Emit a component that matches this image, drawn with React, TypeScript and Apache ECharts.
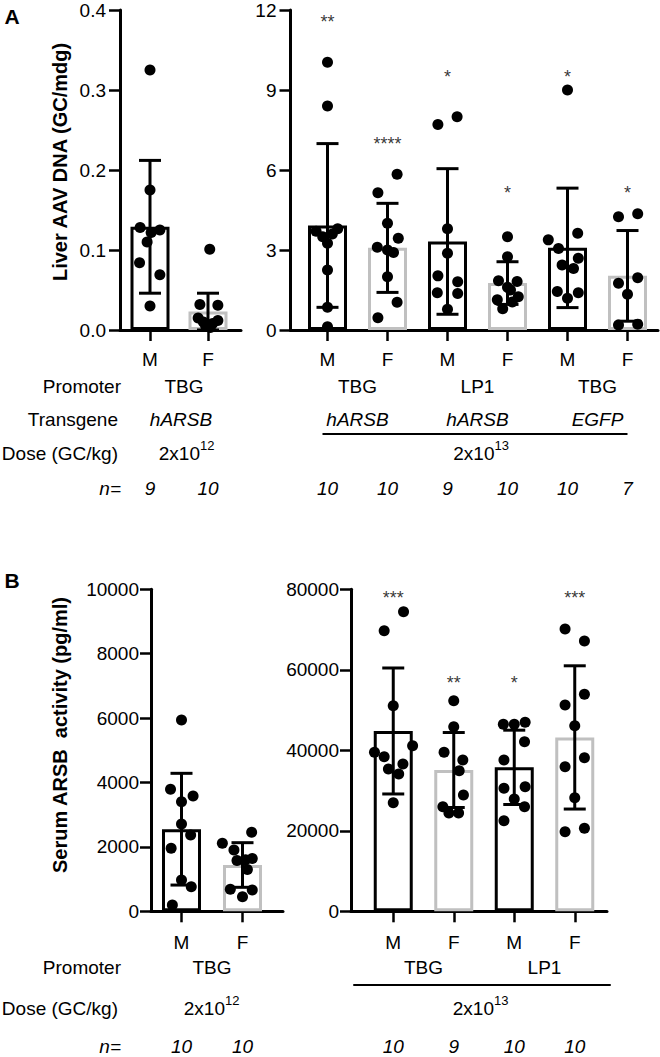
import React, { useEffect, useRef } from 'react';
import * as echarts from 'echarts';

const FONT = '"Liberation Sans", Arial, sans-serif';
const GRAY = '#c0c0c0';
const FS = 19;

// ---------- Panel A, left (2x10^12) ----------
const aLeftCats = ['M', 'F'];
const aLeftMean = [0.129, 0.023];
const aLeftSD = [0.083, 0.023];
const aLeftMDots = [0.325, 0.175, 0.128, 0.125, 0.122, 0.11, 0.084, 0.069, 0.03];
const aLeftMJit = [0, 0, -0.17, 0.17, 0.02, -0.05, -0.18, 0.17, 0];
const aLeftFDots = [0.101, 0.032, 0.031, 0.015, 0.012, 0.01, 0.008, 0.006, 0.005, 0.003];
const aLeftFJit = [0.03, -0.14, 0.17, -0.17, 0.17, -0.08, 0.08, 0, -0.04, 0.04];
const aLeftTicks = [0, 0.4, 0.1];

// ---------- Panel A, right (2x10^13) ----------
const aRightCats = ['M', 'F', 'M', 'F', 'M', 'F'];
const aRightMean = [3.92, 3.08, 3.32, 1.76, 3.08, 2.03];
const aRightSD = [3.07, 1.67, 2.73, 0.8, 2.24, 1.7];
const aR1 = [10.04, 8.4, 3.8, 3.7, 3.6, 3.5, 3.25, 2.25, 0.85, 0.12];
const aR1Jit = [0, 0, 0.17, -0.19, 0.08, -0.08, 0, 0, 0, 0];
const aR2 = [5.84, 5.15, 4.0, 3.44, 3.1, 3.0, 2.91, 2.0, 1.04, 0.46];
const aR2Jit = [0.16, -0.16, 0, 0.18, -0.17, 0, 0.1, 0, 0.16, -0.16];
const aR3 = [8.0, 7.71, 3.8, 2.88, 2.03, 1.81, 1.4, 1.37, 0.78];
const aR3Jit = [0.16, -0.16, 0, 0, -0.16, 0.17, -0.17, 0.17, 0];
const aR4 = [3.5, 2.75, 1.85, 1.82, 1.6, 1.5, 1.25, 1.13, 1.05, 0.8];
const aR4Jit = [0, 0, -0.15, 0.16, 0, 0.05, 0.18, -0.17, 0.08, -0.08];
const aR5 = [9.0, 3.63, 3.38, 3.06, 2.69, 2.44, 2.31, 1.44, 1.4, 1.19];
const aR5Jit = [0, 0.17, -0.32, -0.15, 0.18, -0.09, 0.1, -0.17, 0.18, 0];
const aR6 = [4.36, 4.25, 1.96, 1.75, 1.34, 0.22, 0.19];
const aR6Jit = [0.17, -0.15, 0.17, -0.15, 0, 0.17, -0.15];
const aRightStars = ['**', '****', '*', '*', '*', '*'];
const aRightStarAt = [11.75, 7.16, 9.69, 5.33, 9.69, 5.33];
const aRightTicks = [0, 12, 3];

// ---------- Panel B, left (2x10^12) ----------
const bLeftCats = ['M', 'F'];
const bLeftMean = [2550, 1438];
const bLeftSD = [1735, 693];
const bLeftMDots = [5942, 3789, 3581, 3404, 2711, 2370, 1957, 972, 765, 196];
const bLeftMJit = [0, -0.18, 0.19, 0, 0, 0.15, -0.17, 0, 0.16, -0.15];
const bLeftFDots = [2454, 2112, 1904, 1640, 1600, 1580, 1300, 683, 662, 453];
const bLeftFJit = [0.15, -0.33, -0.14, 0.16, 0.05, -0.09, 0.08, -0.2, 0.16, 0];
const bLeftTicks = [0, 10000, 2000];

// ---------- Panel B, right (2x10^13) ----------
const bRightCats = ['M', 'F', 'M', 'F'];
const bRightMean = [44800, 35100, 35770, 43200];
const bRightSD = [15650, 9315, 9230, 17795];
const bR1 = [74420, 69700, 51070, 41130, 39490, 38400, 36590, 35350, 34100, 26980];
const bR1Jit = [0.17, -0.15, 0, 0.32, -0.31, -0.15, 0.16, -0.08, 0.09, 0];
const bR2 = [52310, 45850, 39490, 37580, 34920, 28890, 25980, 24400, 24400];
const bR2Jit = [0, 0, -0.16, 0.15, 0.09, 0.16, -0.18, -0.08, 0.08];
const bR3 = [46950, 46450, 46450, 42130, 37580, 30950, 30550, 27900, 25980, 22500];
const bR3Jit = [0.18, -0.18, 0, 0.17, -0.17, 0.18, -0.17, 0, 0.17, -0.17];
const bR4 = [70120, 67140, 53900, 51240, 46100, 38150, 35920, 28220, 20620, 19770];
const bR4Jit = [-0.16, 0.16, 0.16, -0.16, 0, 0.16, -0.16, 0, 0.16, -0.16];
const bRightStars = ['***', '**', '*', '***'];
const bRightStarAt = [79140, 57880, 57880, 79140];
const bRightTicks = [0, 80000, 20000];

// ---------- Table rows ----------
const promoterALeft = ['TBG'];
const promoterARight = ['TBG', 'LP1', 'TBG'];
const transgeneALeft = ['hARSB'];
const transgeneARight = ['hARSB', 'hARSB', 'EGFP'];
const promoterBLeft = ['TBG'];
const promoterBRight = ['TBG', 'LP1'];
const doseLowExp = '12';
const doseHighExp = '13';
const nALeft = [9, 10];
const nARight = [10, 10, 9, 10, 10, 7];
const nBLeft = [10, 10];
const nBRight = [10, 9, 10, 10];

type Panel = {
  cats: string[];
  mean: number[];
  sd: number[];
  dots: number[][];
  jit: number[][];
  ticks: number[];
  fmt: (v: number) => string;
  stars?: string[];
  starAt?: number[];
  axisX: number;
  barLeft: number;
  catW: number;
  axisEnd: number;
  top: number;
  height: number;
  labelMargin: number;
  yLabelMargin: number;
};

const panels: Panel[] = [
  {
    cats: aLeftCats, mean: aLeftMean, sd: aLeftSD,
    dots: [aLeftMDots, aLeftFDots], jit: [aLeftMJit, aLeftFJit],
    ticks: aLeftTicks, fmt: (v) => v.toFixed(1),
    axisX: 120, barLeft: 121, catW: 58, axisEnd: 241, top: 10, height: 320, labelMargin: 20, yLabelMargin: 14,
  },
  {
    cats: aRightCats, mean: aRightMean, sd: aRightSD,
    dots: [aR1, aR2, aR3, aR4, aR5, aR6], jit: [aR1Jit, aR2Jit, aR3Jit, aR4Jit, aR5Jit, aR6Jit],
    ticks: aRightTicks, fmt: (v) => String(v),
    stars: aRightStars, starAt: aRightStarAt,
    axisX: 290.5, barLeft: 297.5, catW: 60, axisEnd: 658, top: 10, height: 320, labelMargin: 20, yLabelMargin: 14,
  },
  {
    cats: bLeftCats, mean: bLeftMean, sd: bLeftSD,
    dots: [bLeftMDots, bLeftFDots], jit: [bLeftMJit, bLeftFJit],
    ticks: bLeftTicks, fmt: (v) => String(v),
    axisX: 151, barLeft: 151, catW: 61, axisEnd: 283, top: 589.3, height: 322, labelMargin: 22, yLabelMargin: 12,
  },
  {
    cats: bRightCats, mean: bRightMean, sd: bRightSD,
    dots: [bR1, bR2, bR3, bR4], jit: [bR1Jit, bR2Jit, bR3Jit, bR4Jit],
    ticks: bRightTicks, fmt: (v) => String(v),
    stars: bRightStars, starAt: bRightStarAt,
    axisX: 351, barLeft: 363, catW: 60.5, axisEnd: 607, top: 589.3, height: 322, labelMargin: 22, yLabelMargin: 12,
  },
];

function buildOption() {
  const grid: any[] = [];
  const xAxis: any[] = [];
  const yAxis: any[] = [];
  const series: any[] = [];

  panels.forEach((p, pi) => {
    const n = p.cats.length;
    const [ymin, ymax, step] = p.ticks;
    grid.push({ left: p.axisX, top: p.top, width: p.axisEnd - p.axisX, height: p.height, containLabel: false });
    grid.push({ left: p.barLeft, top: p.top, width: p.catW * n, height: p.height, containLabel: false });

    xAxis.push({
      type: 'value', gridIndex: pi * 2, min: 0, max: 1,
      axisLine: { show: true, onZero: false, lineStyle: { color: '#000', width: 3 } },
      axisTick: { show: false }, axisLabel: { show: false }, splitLine: { show: false },
    });
    xAxis.push({
      type: 'category', gridIndex: pi * 2 + 1, data: p.cats,
      axisLine: { show: false },
      axisTick: { show: true, alignWithLabel: true, length: 11, lineStyle: { color: '#000', width: 2.5 } },
      axisLabel: { show: true, margin: p.labelMargin, color: '#000', fontSize: FS, fontFamily: FONT },
      splitLine: { show: false },
    });
    xAxis.push({
      type: 'value', gridIndex: pi * 2 + 1, min: -0.5, max: n - 0.5, show: false,
    });

    yAxis.push({
      type: 'value', gridIndex: pi * 2, min: ymin, max: ymax, interval: step,
      axisLine: { show: true, onZero: false, lineStyle: { color: '#000', width: 3 } },
      axisTick: { show: true, length: 11, lineStyle: { color: '#000', width: 2.5 } },
      axisLabel: { show: true, margin: p.yLabelMargin, color: '#000', fontSize: FS, fontFamily: FONT, formatter: p.fmt },
      splitLine: { show: false },
    });
    yAxis.push({ type: 'value', gridIndex: pi * 2 + 1, min: ymin, max: ymax, show: false });

    const catX = pi * 3 + 1;
    const jitX = pi * 3 + 2;
    const yIdx = pi * 2 + 1;

    series.push({
      type: 'bar', xAxisIndex: catX, yAxisIndex: yIdx, barWidth: 39, z: 2,
      data: p.mean.map((m, i) => ({
        value: m,
        itemStyle: { color: '#fff', borderColor: p.cats[i] === 'M' ? '#000' : GRAY, borderWidth: 3 },
      })),
    });

    const pts: number[][] = [];
    p.dots.forEach((vals, i) => vals.forEach((v, k) => pts.push([i + p.jit[i][k], v])));
    series.push({
      type: 'scatter', xAxisIndex: jitX, yAxisIndex: yIdx, symbolSize: 11, z: 4,
      itemStyle: { color: '#000', opacity: 1 }, data: pts, clip: false,
    });

    series.push({
      type: 'custom', xAxisIndex: jitX, yAxisIndex: yIdx, z: 5, clip: false,
      data: p.mean.map((m, i) => [i, m, p.sd[i]]),
      renderItem: (params: any, api: any) => {
        const i = api.value(0);
        const m = api.value(1);
        const s = api.value(2);
        const t = api.coord([i, m + s]);
        const b = api.coord([i, m - s]);
        const hw = 11;
        const st = { stroke: '#000', lineWidth: 3, fill: 'none' };
        return {
          type: 'group',
          children: [
            { type: 'line', shape: { x1: t[0], y1: t[1], x2: b[0], y2: b[1] }, style: st },
            { type: 'line', shape: { x1: t[0] - hw, y1: t[1], x2: t[0] + hw, y2: t[1] }, style: st },
            { type: 'line', shape: { x1: b[0] - hw, y1: b[1], x2: b[0] + hw, y2: b[1] }, style: st },
          ],
        };
      },
    });

    if (p.stars && p.starAt) {
      const stars = p.stars;
      series.push({
        type: 'scatter', xAxisIndex: jitX, yAxisIndex: yIdx, symbolSize: 1, z: 6,
        itemStyle: { color: 'rgba(0,0,0,0)' },
        data: p.starAt.map((v, i) => [i, v]),
        label: {
          show: true, position: 'inside', offset: [0, 5], color: '#000', fontSize: 18, fontFamily: FONT,
          formatter: (q: any) => stars[q.dataIndex],
        },
      });
    }
  });

  return { animation: false, grid, xAxis, yAxis, series };
}

export default function App() {
  const ref = useRef<HTMLDivElement>(null);
  useEffect(() => {
    if (!ref.current) return;
    const chart = echarts.init(ref.current, undefined, { renderer: 'svg' });
    chart.setOption(buildOption() as any);

    const cx = (pi: number, i: number) => chart.convertToPixel({ xAxisIndex: pi * 3 + 2 } as any, i) as number;
    const f18 = `${FS}px ${FONT}`;
    const i18 = `italic ${FS}px ${FONT}`;
    const els: any[] = [];
    const text = (t: string, x: number, y: number, font: string, align = 'center', extra: any = {}) => {
      els.push({
        type: 'text', x, y, ...extra,
        style: { text: t, font, fill: '#000', align, verticalAlign: 'middle', textAlign: align, textVerticalAlign: 'middle' },
      });
    };
    const line = (x1: number, x2: number, y: number) => {
      els.push({ type: 'line', shape: { x1, y1: y, x2, y2: y }, style: { stroke: '#000', lineWidth: 2 } });
    };
    const dose = (exp: string, x: number, y: number) => {
      text('2x10', x + 13, y, f18, 'right');
      text(exp, x + 13, y - 8, `13px ${FONT}`, 'left');
    };
    const rowX = 121;

    text('A', 12, 16, `bold 21px ${FONT}`);
    text('B', 12, 580, `bold 21px ${FONT}`);
    text('Liver AAV DNA (GC/mdg)', 60, 162, `bold 20px ${FONT}`, 'center', { rotation: Math.PI / 2 });
    text('Serum ARSB  activity (pg/ml)', 60, 735, `bold 20px ${FONT}`, 'center', { rotation: Math.PI / 2 });

    const yA = { promoter: 386, transgene: 419, line: 434, dose: 453, n: 488 };
    text('Promoter', rowX, yA.promoter, f18, 'right');
    text('Transgene', rowX - 3, yA.transgene, f18, 'right');
    text('Dose (GC/kg)', rowX - 3, yA.dose, f18, 'right');
    text('n=', rowX, yA.n, i18, 'right');
    const midL = (cx(0, 0) + cx(0, 1)) / 2;
    promoterALeft.forEach((t) => text(t, midL + 5, yA.promoter, f18));
    transgeneALeft.forEach((t) => text(t, midL + 2, yA.transgene, i18));
    promoterARight.forEach((t, g) => text(t, (cx(1, 2 * g) + cx(1, 2 * g + 1)) / 2, yA.promoter, f18));
    transgeneARight.forEach((t, g) => text(t, (cx(1, 2 * g) + cx(1, 2 * g + 1)) / 2, yA.transgene, i18));
    line(cx(1, 0) - 5, cx(1, 5), yA.line);
    dose(doseLowExp, midL + 8, yA.dose);
    dose(doseHighExp, (cx(1, 0) + cx(1, 5)) / 2 + 4, yA.dose);
    nALeft.forEach((v, i) => text(String(v), cx(0, i), yA.n, i18));
    nARight.forEach((v, i) => text(String(v), cx(1, i), yA.n, i18));

    const yB = { promoter: 967, line: 985, dose: 1008, n: 1046 };
    text('Promoter', rowX, yB.promoter, f18, 'right');
    text('Dose (GC/kg)', rowX - 3, yB.dose, f18, 'right');
    text('n=', rowX, yB.n, i18, 'right');
    const midBL = (cx(2, 0) + cx(2, 1)) / 2;
    promoterBLeft.forEach((t) => text(t, midBL, yB.promoter, f18));
    promoterBRight.forEach((t, g) => text(t, (cx(3, 2 * g) + cx(3, 2 * g + 1)) / 2, yB.promoter, f18));
    line(cx(3, 0) - 40, cx(3, 3) + 36, yB.line);
    dose(doseLowExp, midBL, yB.dose);
    dose(doseHighExp, (cx(3, 0) + cx(3, 3)) / 2 - 3, yB.dose);
    nBLeft.forEach((v, i) => text(String(v), cx(2, i), yB.n, i18));
    nBRight.forEach((v, i) => text(String(v), cx(3, i), yB.n, i18));

    chart.setOption({ graphic: { elements: els } } as any);
    return () => chart.dispose();
  }, []);
  return <div ref={ref} style={{ position: 'absolute', left: 0, top: 0, width: 660, height: 1057, background: '#fff' }} />;
}
